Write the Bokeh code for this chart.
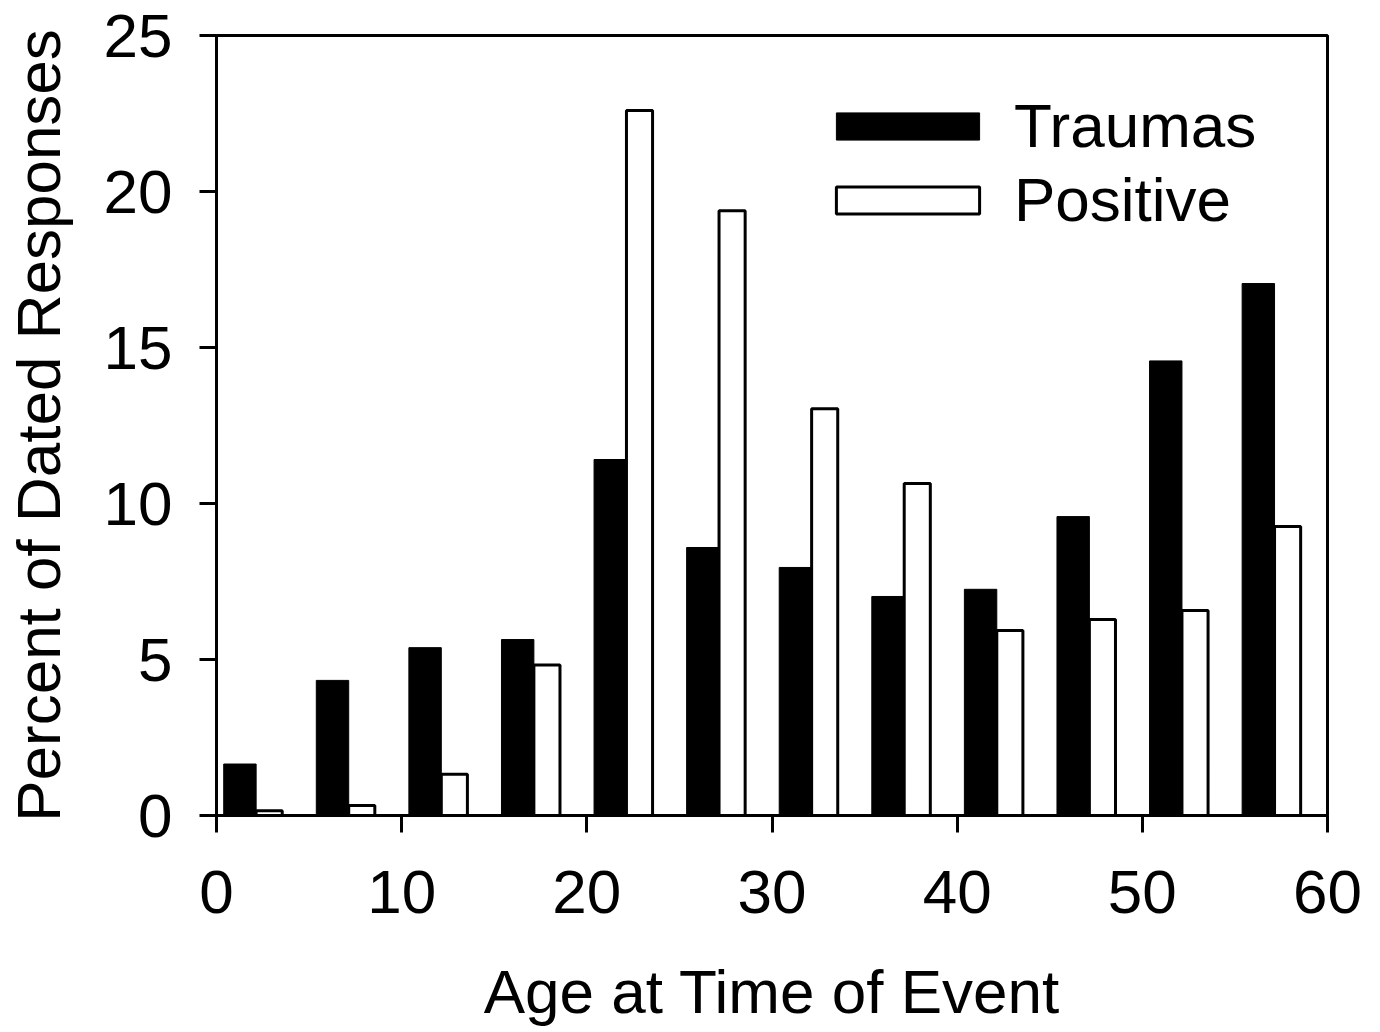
from bokeh.plotting import figure
from bokeh.models import ColumnDataSource, FixedTicker, Legend, LegendItem
from bokeh.embed import file_html
from bokeh.resources import INLINE

# Data
age_groups = [0, 5, 10, 15, 20, 25, 30, 35, 40, 45, 50, 55]
traumas = [1.65, 4.33, 5.38, 5.64, 11.41, 8.59, 7.95, 7.02, 7.25, 9.58, 14.57, 17.05]
positive = [0.15, 0.32, 1.32, 4.82, 22.6, 19.38, 13.04, 10.64, 5.93, 6.28, 6.57, 9.26]
x_ticks = [0, 10, 20, 30, 40, 50, 60]
y_ticks = [0, 5, 10, 15, 20, 25]
series_names = ["Traumas", "Positive"]

FONT = "Liberation Sans"

src = ColumnDataSource(dict(
    g=age_groups,
    bl=[g + 0.39 for g in age_groups],
    bm=[g + 2.14 for g in age_groups],
    wr=[g + 3.55 for g in age_groups],
    t=traumas,
    p=positive,
    zero=[0] * len(age_groups),
))

p = figure(width=1380, height=1032, x_range=(0, 60), y_range=(0, 25),
           output_backend="svg", toolbar_location=None,
           min_border_left=216, min_border_right=53, min_border_top=35, min_border_bottom=217)
p.xgrid.visible = False
p.ygrid.visible = False
p.outline_line_color = "black"
p.outline_line_width = 3
p.background_fill_color = "white"
p.border_fill_color = "white"

rw = p.quad(left="bm", right="wr", bottom="zero", top="p", source=src,
            fill_color="white", line_color="black", line_width=3)
rb = p.quad(left="bl", right="bm", bottom="zero", top="t", source=src,
            fill_color="black", line_color="black", line_width=1)

for ax, ticks in ((p.xaxis[0], x_ticks), (p.yaxis[0], y_ticks)):
    ax.ticker = FixedTicker(ticks=ticks)
    ax.minor_tick_line_color = None
    ax.major_tick_in = 0
    ax.major_tick_out = 17
    ax.major_tick_line_width = 3
    ax.axis_line_width = 3
    ax.major_label_text_font = FONT
    ax.major_label_text_font_size = "62px"
    ax.major_label_text_color = "black"
    ax.axis_label_text_font = FONT
    ax.axis_label_text_font_size = "62px"
    ax.axis_label_text_font_style = "normal"
    ax.axis_label_text_color = "black"

p.xaxis[0].axis_label = "Age at Time of Event"
p.yaxis[0].axis_label = "Percent of Dated Responses"
p.xaxis[0].major_label_standoff = 38
p.yaxis[0].major_label_standoff = 27
p.xaxis[0].axis_label_standoff = 41
p.yaxis[0].axis_label_standoff = 28

legend = Legend(items=[LegendItem(label=series_names[0], renderers=[rb]),
                       LegendItem(label=series_names[1], renderers=[rw])],
                location=(602, 580), padding=0, margin=0, spacing=3,
                glyph_width=179, glyph_height=34, label_standoff=17,
                label_text_font=FONT, label_text_font_size="62px",
                label_text_color="black",
                border_line_alpha=0, background_fill_alpha=0)
p.add_layout(legend, "center")

open("out.html", "w").write(file_html(p, INLINE))
